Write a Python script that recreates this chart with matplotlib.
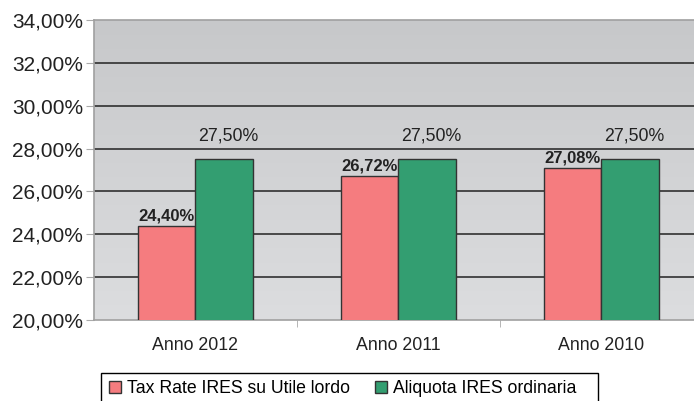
import numpy as np
import matplotlib.pyplot as plt
from matplotlib.colors import LinearSegmentedColormap
from matplotlib.ticker import FuncFormatter
from matplotlib.patches import Patch, Rectangle

# dati
anni = ["Anno 2012", "Anno 2011", "Anno 2010"]
tax_rate = [24.40, 26.72, 27.08]
aliquota = [27.50, 27.50, 27.50]
serie = ["Tax Rate IRES su Utile lordo", "Aliquota IRES ordinaria"]

ROSSO = "#f57c7f"
VERDE = "#339e71"
BORDO = "#333333"

plt.rcParams.update({"font.family": ["Liberation Sans", "DejaVu Sans"],
                     "font.size": 12.8})

fig = plt.figure(figsize=(6.94, 4.01), dpi=100)
ax = fig.add_axes([94 / 694, 81 / 401, 609 / 694, 300 / 401])

# sfondo sfumato dell'area del grafico
grad = np.linspace(0, 1, 256).reshape(-1, 1)
sfondo = LinearSegmentedColormap.from_list("bg", ["#c7c8ca", "#dcdddf"])
ax.imshow(grad, extent=(-0.5, 2.5, 20, 34), aspect="auto", zorder=0,
          cmap=sfondo, origin="upper")

x = np.arange(len(anni))
w = 0.285
ax.bar(x - w / 2, tax_rate, w, color=ROSSO, edgecolor=BORDO,
       linewidth=1.0, zorder=3)
ax.bar(x + w / 2, aliquota, w, color=VERDE, edgecolor=BORDO,
       linewidth=1.0, zorder=3)

def it(v):
    return f"{v:.2f}".replace(".", ",") + "%"

for xi, v in zip(x, tax_rate):
    ax.text(xi - w / 2, v + 0.12, it(v), ha="center", va="bottom",
            fontweight="bold", fontsize=12, color="#222222", zorder=4)
for xi, v in zip(x, aliquota):
    ax.text(xi + w / 2 + 0.02, v + 0.7, it(v), ha="center", va="bottom",
            color="#222222", zorder=4)

ax.set_xlim(-0.5, 2.5)
ax.set_ylim(20, 34)
ax.set_yticks(np.arange(20, 35, 2))
ax.yaxis.set_major_formatter(FuncFormatter(lambda v, p: it(v)))
for yv in np.arange(22, 34, 2):
    ax.axhline(yv, color="#222222", lw=1.1, zorder=1)

ax.set_xticks(x)
ax.set_xticklabels(anni)
ax.set_xticks([0.5, 1.5], minor=True)
ax.tick_params(axis="x", which="major", length=0, pad=12, colors="#222222")
ax.tick_params(axis="x", which="minor", length=5, color="#aaaaaa")
ax.tick_params(axis="y", length=6, color="#aaaaaa", colors="#222222",
               labelsize=15, pad=2)

for s in ["left", "bottom", "top"]:
    ax.spines[s].set_color("#a0a0a0")
    ax.spines[s].set_linewidth(1.2)
ax.spines["right"].set_visible(False)

# legenda (cornice disegnata a parte, tagliata dal bordo inferiore)
handles = [Patch(facecolor=ROSSO, edgecolor=BORDO, label=serie[0]),
           Patch(facecolor=VERDE, edgecolor=BORDO, label=serie[1])]
fig.legend(handles=handles, loc="upper left",
           bbox_to_anchor=(101 / 694, 1 - 372.5 / 401), ncol=2,
           frameon=False, handlelength=0.68, handleheight=0.65,
           handletextpad=0.34, columnspacing=1.42,
           borderpad=0.45, borderaxespad=0, fontsize=12.7)
fig.add_artist(Rectangle((101 / 694, -0.05), 497 / 694,
                         (401 - 372.5) / 401 + 0.05,
                         transform=fig.transFigure, fill=False,
                         edgecolor="black", linewidth=1.0))

fig.savefig("out.png", dpi=100)
